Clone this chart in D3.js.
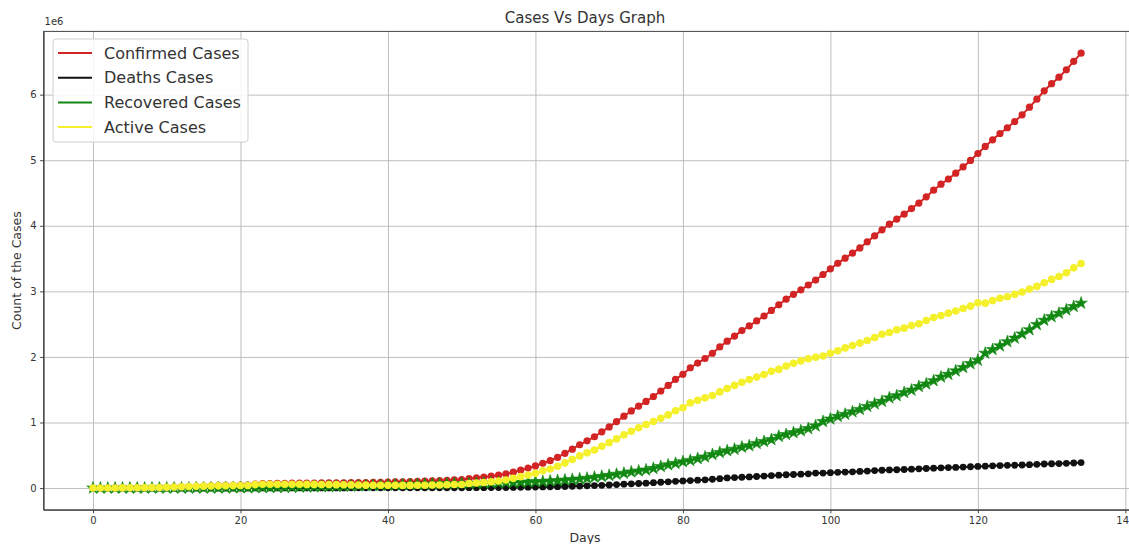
<!DOCTYPE html>
<html>
<head>
<meta charset="utf-8">
<script src="https://d3js.org/d3.v7.min.js"></script>
<style>
  body { margin: 0; background: #fff; }
  text { font-family: "DejaVu Sans", sans-serif; fill: #333; }
  .grid line { stroke: #b8b8b8; stroke-width: 0.9; }
  .grid path { display: none; }
  .axis path, .axis line { stroke: #444; }
  .line { fill: none; stroke-width: 2; }
</style>
</head>
<body>
<div id="chart"></div>
<script>
// counts in thousands, day 0 .. 134
var confirmed = [0.56,0.65,0.94,1.43,2.12,2.93,5.58,6.17,8.24,9.93,
  12.04,16.79,19.88,23.89,27.64,30.8,34.39,37.12,40.15,42.76,
  44.8,45.22,60.37,66.89,69.03,71.22,73.26,75.14,75.64,76.2,
  76.82,78.57,78.96,79.56,80.4,81.38,82.74,84.12,86.01,88.37,
  90.31,92.84,95.12,97.89,101.78,105.82,109.8,113.58,118.58,125.87,
  128.34,145.19,156.1,167.45,181.53,197.14,214.91,242.71,272.17,304.53,
  337.02,378.23,418.04,467.65,529.59,593.29,660.69,720.14,782.39,857.49,
  932.61,1013.16,1095.92,1176.06,1249.75,1321.48,1396.48,1479.8,1565.28,1657.53,
  1735.65,1835.15,1905.94,1976.19,2056.05,2152.65,2240.19,2317.76,2401.38,2472.26,
  2549.29,2624.07,2708.89,2795.73,2881.14,2955.03,3023.72,3097.23,3172.29,3256.85,
  3343.78,3427.34,3506.73,3583.05,3662.69,3755.34,3845.72,3938.06,4024.01,4101.7,
  4177.5,4261.75,4347.02,4442.16,4542.35,4634.07,4713.62,4801.94,4897.49,4996.47,
  5102.42,5210.82,5310.36,5407.61,5495.06,5589.63,5691.79,5808.95,5930.48,6059.02,
  6166.95,6265.85,6378.24,6508.63,6632.99];

var deaths = [0.02,0.02,0.03,0.04,0.06,0.08,0.13,0.13,0.17,0.21,
  0.26,0.36,0.43,0.49,0.56,0.63,0.72,0.81,0.91,1.01,
  1.11,1.12,1.37,1.52,1.67,1.77,1.87,2.01,2.12,2.25,
  2.25,2.46,2.47,2.63,2.71,2.77,2.81,2.87,2.94,3.0,
  3.09,3.16,3.25,3.35,3.46,3.56,3.8,3.99,4.26,4.62,
  4.72,5.4,5.82,6.44,7.13,7.91,8.73,9.87,11.3,12.97,
  14.62,16.5,18.62,21.18,23.97,27.2,30.65,33.93,37.58,42.11,
  46.81,52.98,58.79,64.61,69.37,74.57,81.87,88.34,95.46,102.53,
  108.5,114.09,119.48,125.98,134.18,143.8,153.82,159.51,165.04,169.99,
  176.58,183.07,190.86,197.16,202.85,206.54,211.17,217.15,228.24,228.75,
  234.11,239.6,243.81,247.47,253.18,259.47,265.86,271.35,275.87,279.31,
  282.71,288.33,293.16,298.17,303.35,308.15,311.78,315.19,320.19,324.94,
  329.3,334.11,339.4,343.39,346.3,347.7,351.91,357.12,361.82,366.81,
  370.66,373.61,377.46,382.45,387.98];

var recovered = [0.03,0.03,0.04,0.04,0.05,0.06,0.11,0.13,0.14,0.22,
  0.28,0.47,0.62,0.85,1.12,1.49,2.01,2.62,3.24,3.95,
  4.68,5.15,6.3,8.06,9.4,10.87,12.58,14.35,16.12,18.18,
  18.89,22.89,23.39,25.23,27.91,30.38,33.28,36.71,39.78,42.72,
  45.6,48.23,51.17,53.8,55.87,58.36,60.69,62.49,64.4,67.0,
  68.32,70.25,72.62,76.03,78.09,80.84,83.21,84.85,87.26,91.56,
  97.88,98.35,108.0,113.79,122.15,130.92,139.42,149.08,164.57,178.03,
  193.18,210.26,225.8,246.15,260.01,276.52,300.05,328.66,353.98,376.1,
  402.11,421.72,448.66,474.26,511.02,542.11,568.34,592.32,623.9,645.74,
  680.4,709.69,738.49,788.7,816.69,845.32,873.57,906.99,948.43,1014.75,
  1053.33,1093.11,1125.24,1162.72,1198.83,1245.41,1284.74,1322.05,1375.62,1408.98,
  1456.21,1493.41,1548.55,1587.89,1637.07,1693.2,1733.96,1786.88,1839.0,1897.47,
  1948.74,2056.64,2112.19,2168.56,2231.74,2286.96,2350.0,2415.0,2493.0,2560.0,
  2614.0,2665.0,2718.0,2768.0,2820.0];

var active = [0.51,0.6,0.88,1.35,2.01,2.79,5.34,5.91,7.93,9.5,
  11.5,15.96,18.83,22.55,25.95,28.68,31.66,33.7,36.0,37.8,
  39.0,38.95,52.7,57.31,57.97,58.59,58.81,58.78,57.4,55.78,
  55.68,53.23,53.1,51.7,49.79,48.23,46.65,44.54,43.29,42.66,
  41.62,41.45,40.7,40.75,42.46,43.9,45.3,47.1,49.91,54.25,
  55.3,69.54,77.66,84.98,96.32,108.4,122.97,147.99,173.62,200.0,
  224.52,263.38,291.43,332.68,383.47,435.18,490.62,537.13,580.24,637.35,
  692.62,749.91,811.34,865.3,920.36,970.4,1014.56,1062.8,1115.85,1178.91,
  1225.04,1299.34,1337.8,1375.95,1410.85,1466.74,1518.03,1565.93,1612.43,1656.54,
  1692.31,1731.31,1779.55,1809.87,1861.61,1903.17,1938.99,1973.09,1995.63,2013.35,
  2056.35,2094.63,2137.69,2172.86,2210.68,2250.45,2295.12,2344.66,2372.51,2413.41,
  2438.58,2480.01,2505.32,2556.1,2601.93,2632.72,2667.88,2699.88,2738.31,2774.06,
  2824.38,2820.07,2858.78,2895.66,2917.02,2954.97,2989.88,3036.83,3075.66,3132.21,
  3182.29,3227.24,3282.78,3358.18,3425.01];

var xTicks = [0, 20, 40, 60, 80, 100, 120, 140];
var yTicks = [0, 1000, 2000, 3000, 4000, 5000, 6000];
var seriesNames = ["Confirmed Cases", "Deaths Cases", "Recovered Cases", "Active Cases"];
var seriesColors = ["#d22424", "#111111", "#118811", "#f5f02c"];

var W = 1129, H = 544;
var margin = {top: 31.4, right: -1.5, bottom: 34.2, left: 43.6};
var width = W - margin.left - margin.right,
    height = H - margin.top - margin.bottom;

var ymin = 0, ymax = d3.max(confirmed);
var pad = (ymax - ymin) * 0.05;

var x = d3.scaleLinear().domain([-6.7, 140.7]).range([0, width]);
var y = d3.scaleLinear().domain([ymin - pad, ymax + pad]).range([height, 0]);

var svg = d3.select("#chart").append("svg")
    .attr("width", W).attr("height", H)
    .style("display", "block");
svg.append("rect").attr("width", W).attr("height", H).attr("fill", "#fff");

var g = svg.append("g")
    .attr("transform", "translate(" + margin.left + "," + margin.top + ")");

// grid
g.append("g").attr("class", "grid")
    .attr("transform", "translate(0," + height + ")")
    .call(d3.axisBottom(x).tickValues(xTicks).tickSize(-height).tickFormat(""));
g.append("g").attr("class", "grid")
    .call(d3.axisLeft(y).tickValues(yTicks).tickSize(-width).tickFormat(""));

// series
var sets = [
  {data: confirmed, color: seriesColors[0], shape: "circle", r: 3.6},
  {data: deaths, color: seriesColors[1], shape: "circle", r: 3.4},
  {data: recovered, color: seriesColors[2], shape: "star", r: 0},
  {data: active, color: seriesColors[3], shape: "circle", r: 3.8}
];

var line = d3.line()
    .x(function(d, i) { return x(i); })
    .y(function(d) { return y(d); });

var star = d3.symbol().type(d3.symbolStar).size(48);

sets.forEach(function(s) {
  g.append("path")
      .datum(s.data)
      .attr("class", "line")
      .attr("stroke", s.color)
      .attr("d", line);
  if (s.shape === "circle") {
    g.selectAll(null)
        .data(s.data)
        .enter().append("circle")
        .attr("cx", function(d, i) { return x(i); })
        .attr("cy", function(d) { return y(d); })
        .attr("r", s.r)
        .attr("fill", s.color);
  } else {
    g.selectAll(null)
        .data(s.data)
        .enter().append("path")
        .attr("d", star)
        .attr("transform", function(d, i) { return "translate(" + x(i) + "," + y(d) + ")"; })
        .attr("fill", s.color)
        .attr("stroke", s.color)
        .attr("stroke-width", 0.6);
  }
});

// axes
g.append("g").attr("class", "axis")
    .attr("transform", "translate(0," + height + ")")
    .call(d3.axisBottom(x).tickValues(xTicks).tickSize(3.5).tickPadding(3.5).tickSizeOuter(0));
g.append("g").attr("class", "axis")
    .call(d3.axisLeft(y).tickValues(yTicks).tickSize(3.5).tickPadding(3.5).tickSizeOuter(0)
      .tickFormat(function(d) { return d / 1000; }));
g.selectAll(".axis text").style("font-size", "10px").style("font-family", "DejaVu Sans").attr("fill", "#333");

// frame
g.append("rect")
    .attr("width", width).attr("height", height)
    .attr("fill", "none").attr("stroke", "#444").attr("stroke-width", 1);

// offset text
svg.append("text").attr("x", margin.left + 1).attr("y", 25)
    .style("font-size", "10px").text("1e6");

// title and labels
svg.append("text").attr("x", 585).attr("y", 23)
    .attr("text-anchor", "middle").style("font-size", "15px").text("Cases Vs Days Graph");
svg.append("text").attr("x", 585).attr("y", 542)
    .attr("text-anchor", "middle").style("font-size", "12.5px").text("Days");
svg.append("text")
    .attr("transform", "translate(21," + (margin.top + height / 2) + ") rotate(-90)")
    .attr("text-anchor", "middle").style("font-size", "12.5px").text("Count of the Cases");

// legend
var lg = svg.append("g").attr("transform", "translate(53,39)");
lg.append("rect")
    .attr("width", 195).attr("height", 103).attr("rx", 3)
    .attr("fill", "#fff").attr("fill-opacity", 0.85)
    .attr("stroke", "#d0d0d0");
seriesNames.forEach(function(name, i) {
  var yy = 14 + i * 24.7;
  lg.append("line")
      .attr("x1", 5).attr("x2", 39).attr("y1", yy).attr("y2", yy)
      .attr("stroke", seriesColors[i]).attr("stroke-width", 2);
  lg.append("text")
      .attr("x", 51).attr("y", yy + 5.5)
      .style("font-size", "16px").text(name);
});
</script>
</body>
</html>
